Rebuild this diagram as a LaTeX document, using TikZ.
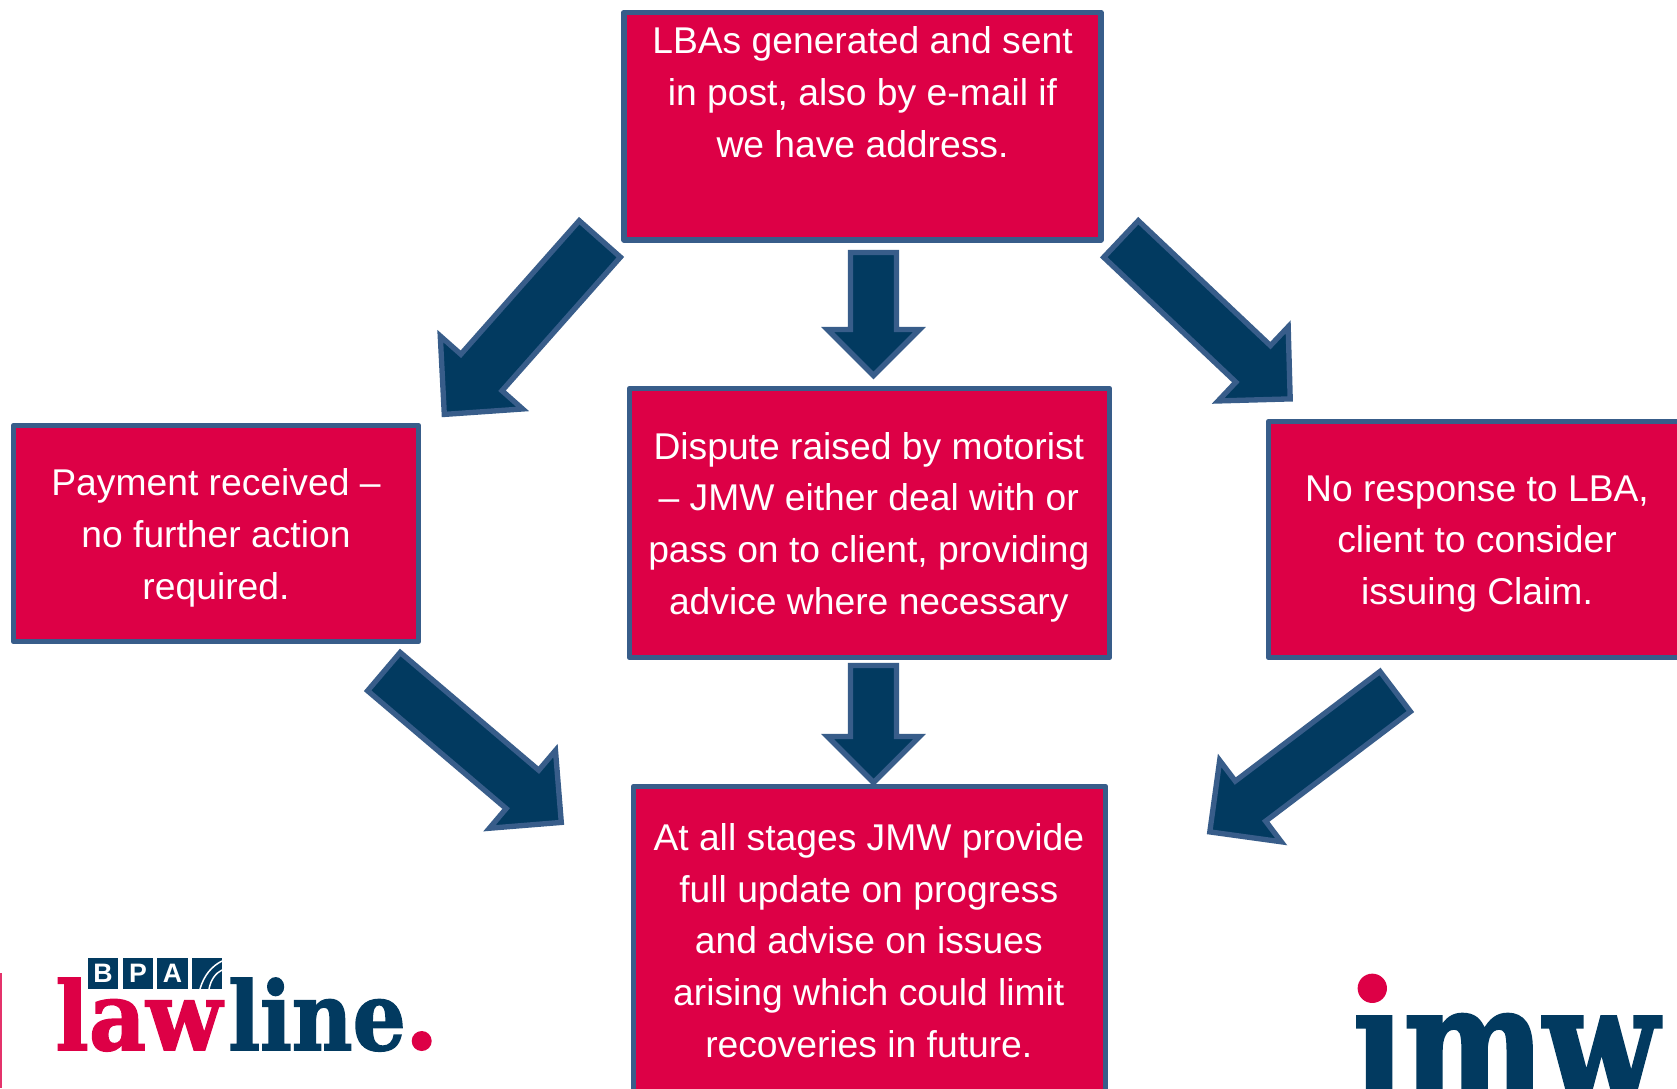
\documentclass[tikz,border=0pt]{standalone}
\usepackage{fontspec}
\setmainfont{Liberation Sans}
\newfontfamily\lawserif[FakeStretch=0.93,FakeBold=1.6]{DejaVu Serif Bold}
\newfontfamily\lineserif[FakeStretch=0.88,FakeBold=1.6]{DejaVu Serif Bold}
\newfontfamily\imwserif[FakeStretch=0.78,FakeBold=2]{DejaVu Serif Bold}
\usetikzlibrary{calc}
\definecolor{boxred}{RGB}{221,0,70}
\definecolor{edgeblue}{RGB}{56,93,138}
\definecolor{navy}{RGB}{2,58,96}
\tikzset{
  stagebox/.style={draw=edgeblue,fill=boxred,line width=3.4pt,line join=round,inner sep=0pt},
  stagetext/.style={text=white,align=center,inner sep=0pt,font=\fontsize{22.35}{31}\selectfont},
  blockarrow/.style={draw=edgeblue,fill=navy,line width=3.2pt,line join=miter,miter limit=10},
  logolaw/.style={text=boxred,inner sep=0pt,anchor=base west,font=\lawserif\fontsize{57}{57}\selectfont},
  logoline/.style={text=navy,inner sep=0pt,anchor=base west,font=\lineserif\fontsize{57}{57}\selectfont},
  bpasquare/.style={fill=navy,text=white,inner sep=0pt,minimum width=18.4pt,minimum height=18.8pt,font=\bfseries\fontsize{16}{16}\selectfont},
}
\newcommand{\blockarr}[5]{%
  \coordinate (#1hb) at ($(#2)!#5!(#1)$);
  \draw[blockarrow] ($(#1)!#3!90:(#2)$) -- ($(#1hb)!#3!90:(#2)$) -- ($(#1hb)!#4!90:(#2)$) -- (#2)
    -- ($(#1hb)!#4!-90:(#2)$) -- ($(#1hb)!#3!-90:(#2)$) -- ($(#1)!#3!-90:(#2)$) -- cycle;
}
\begin{document}
\begin{tikzpicture}[x=0.6pt,y=-0.6pt]
\useasboundingbox (0,0) rectangle (1677,1088);
% stage boxes
\node[stagebox,minimum width=286.2pt,minimum height=136.5pt] (lba) at (862.5,126.25) {};
\node[stagetext] (lbatext) at (862.5,125.5) {LBAs generated and sent\\in post, also by e-mail if\\we have address.\\ \strut};
\node[stagebox,minimum width=288pt,minimum height=161.4pt] (dispute) at (869.5,523) {};
\node[stagetext] (disputetext) at (868.8,527)
  {Dispute raised by motorist\\– JMW either deal with or\\pass on to client, providing\\advice where necessary};
\node[stagebox,minimum width=243pt,minimum height=129.6pt] (paid) at (216,533.5) {};
\node[stagetext] (paidtext) at (216,538) {Payment received –\\no further action\\required.};
\node[stagebox,minimum width=251.4pt,minimum height=141.6pt] (noresp) at (1478,539.5) {};
\node[stagetext] (noresptext) at (1477,544) {No response to LBA,\\client to consider\\issuing Claim.};
\node[stagebox,minimum width=283.2pt,minimum height=186.6pt] (update) at (869.5,942) {};
\node[stagetext] (updatetext) at (868.8,940.5)
  {At all stages JMW provide\\full update on progress\\and advise on issues\\arising which could limit\\recoveries in future.};
% block arrows
\coordinate (atl) at (599.8,238.9); \coordinate (btl) at (444.3,414.4);
\blockarr{atl}{btl}{16.5pt}{33pt}{33.6pt}
\coordinate (atm) at (873.5,252.5); \coordinate (btm) at (873.5,375.5);
\blockarr{atm}{btm}{13.8pt}{27.6pt}{27.6pt}
\coordinate (atr) at (1121,239); \coordinate (btr) at (1290.2,398.9);
\blockarr{atr}{btr}{15.1pt}{30.6pt}{30.6pt}
\coordinate (abl) at (383.9,671.6); \coordinate (bbl) at (561.3,822.4);
\blockarr{abl}{bbl}{15.1pt}{30.6pt}{30.6pt}
\coordinate (abm) at (873.5,665.5); \coordinate (bbm) at (873.5,782.5);
\blockarr{abm}{bbm}{13.8pt}{27.6pt}{27.6pt}
\coordinate (abr) at (1395.2,691.5); \coordinate (bbr) at (1209.8,831.9);
\blockarr{abr}{bbr}{15.1pt}{30.6pt}{30.6pt}
% left edge mark
\fill[boxred!80!white] (0,973) rectangle (1.5,1088);
% lawline logo
\node[logolaw] (law) at (55,1050) {law};
\node[logoline] (line) at (228,1050) {line};
\fill[boxred] (421.7,1041) circle[radius=6pt];
\node[bpasquare] (bpab) at (103,973.5) {B};
\node[bpasquare] (bpap) at (138,973.5) {P};
\node[bpasquare] (bpaa) at (172.5,973.5) {A};
\node[bpasquare] (bpaw) at (207,973.5) {};
\draw[white,line width=0.9pt] (200,989) .. controls (204,975) and (212,966) .. (222,961);
\draw[white,line width=0.9pt] (209,989) .. controls (211,979) and (216,973) .. (222,970);
% imw logo
\fill[boxred] (1372.3,988.3) circle[radius=8.8pt];
\node[text=navy,inner sep=0pt,anchor=base west,font=\imwserif\fontsize{102}{102}\selectfont] (imw) at (1353,1105) {ımw};
\end{tikzpicture}
\end{document}
